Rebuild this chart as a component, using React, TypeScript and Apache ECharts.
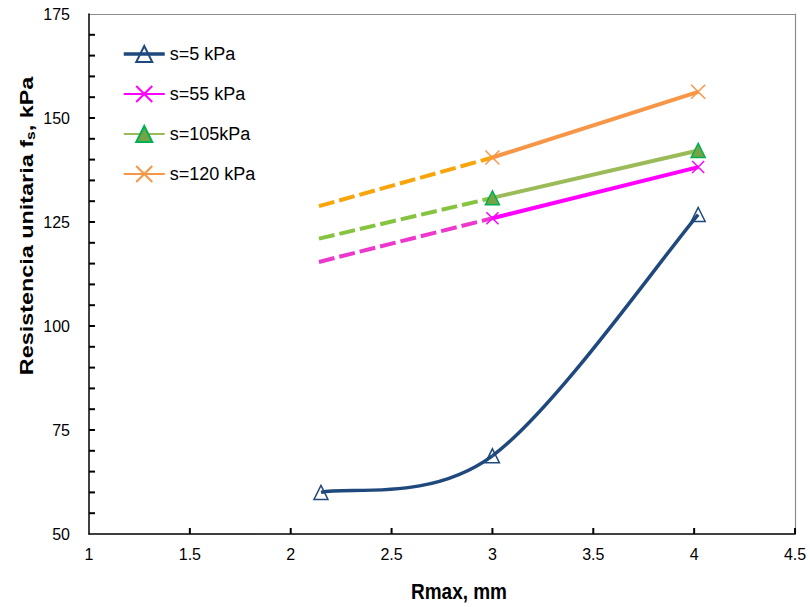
import React, { useEffect, useRef } from "react";
import * as echarts from "echarts";

const xTicks = [1, 1.5, 2, 2.5, 3, 3.5, 4, 4.5];
const yTicks = [50, 75, 100, 125, 150, 175];
const yMinorTicks = [55, 60, 65, 70, 75, 80, 85, 90, 95, 100, 105, 110, 115, 120, 125, 130, 135, 140, 145, 150, 155, 160, 165, 170];
const xTickMarks = [1.5, 2, 2.5, 3, 3.5, 4, 4.5];

const names = ["s=5 kPa", "s=55 kPa", "s=105kPa", "s=120 kPa"];

const s5X = [2.15, 3.0, 4.02];
const s5Y = [60, 68.8, 126.8];

const solidX = [3.0, 4.02];
const s55Solid = [125.9, 138.2];
const s105Solid = [130.8, 142.2];
const s120Solid = [140.5, 156.3];

const dashX = [2.14, 3.0];
const s55Dash = [115.4, 125.9];
const s105Dash = [121.0, 130.8];
const s120Dash = [128.8, 140.5];

const FONT = "Arial, 'Liberation Sans', sans-serif";
const CROSS = "path://M0,0L10,10M10,0L0,10";
const NAVY = "#1F497D";
const X_MIN = 1;
const X_MAX = 4.5;
const Y_MIN = 50;
const Y_MAX = 175;
const TICK_LEN = 6;

function pairs(xs: number[], ys: number[]) {
  return xs.map((x, i) => [x, ys[i]]);
}

export default function App() {
  const ref = useRef<HTMLDivElement>(null);
  useEffect(() => {
    if (!ref.current) return;
    const chart = echarts.init(ref.current, null, { renderer: "svg" });
    const solid = (
      name: string,
      data: number[][],
      color: string,
      symbol: string,
      symbolSize: number,
      markerFill: string,
      markerBorder: string,
      width: number,
      lineOpacity: number
    ) => ({
      type: "line",
      name,
      data,
      symbol,
      symbolSize,
      showAllSymbol: true,
      z: 4,
      lineStyle: { color, width, type: "solid", cap: "butt", opacity: lineOpacity },
      itemStyle: { color: markerFill, borderColor: markerBorder, borderWidth: 1.5 },
      emphasis: { disabled: true },
    });
    const dashed = (data: number[][], color: string) => ({
      type: "line",
      name: "",
      data,
      symbol: "none",
      z: 2,
      lineStyle: { color, width: 4, type: [16, 5], cap: "butt" },
      emphasis: { disabled: true },
    });
    const frameAxis = {
      type: "value",
      axisLine: { show: true, onZero: false, lineStyle: { color: "#8c8c8c", width: 1.2 } },
      axisTick: { show: false },
      axisLabel: { show: false },
      splitLine: { show: false },
    };
    chart.setOption({
      animation: false,
      backgroundColor: "#ffffff",
      grid: {
        left: 89,
        right: 15,
        top: 14,
        bottom: 73,
        show: false,
      },
      legend: {
        data: [
          { name: names[0], lineStyle: { opacity: 1, color: NAVY, width: 3.5 } },
          { name: names[1] },
          { name: names[2] },
          { name: names[3] },
        ],
        orient: "vertical",
        left: 122,
        top: 45,
        padding: 0,
        itemWidth: 41,
        itemHeight: 20,
        itemGap: 22,
        textStyle: { fontFamily: FONT, fontSize: 18, color: "#000" },
        selectedMode: false,
      },
      xAxis: [
        {
          type: "value",
          min: X_MIN,
          max: X_MAX,
          interval: 0.5,
          position: "bottom",
          z: 5,
          axisLine: { show: true, onZero: false, lineStyle: { color: "#000", width: 1.5 } },
          axisTick: { show: false },
          splitLine: { show: false },
          axisLabel: {
            fontFamily: FONT,
            fontSize: 16,
            color: "#000",
            margin: 12,
            formatter: (v: number) => (xTicks.includes(v) ? String(v) : ""),
          },
        },
        { ...frameAxis, min: X_MIN, max: X_MAX, position: "top" },
      ],
      yAxis: [
        {
          type: "value",
          min: Y_MIN,
          max: Y_MAX,
          interval: 25,
          position: "left",
          z: 5,
          axisLine: { show: true, onZero: false, lineStyle: { color: "#000", width: 1.5 } },
          axisTick: { show: false },
          splitLine: { show: false },
          axisLabel: {
            fontFamily: FONT,
            fontSize: 16,
            color: "#000",
            margin: 19,
            formatter: (v: number) => (yTicks.includes(v) ? String(v) : ""),
          },
        },
        { ...frameAxis, min: Y_MIN, max: Y_MAX, position: "right" },
      ],
      graphic: [
        {
          type: "text",
          x: 27,
          y: 226,
          rotation: Math.PI / 2,
          scaleX: 1.3,
          style: {
            text: "{a|Resistencia unitaria f}{s|s}{a|, kPa}",
            align: "center",
            verticalAlign: "middle",
            rich: {
              a: { fontFamily: FONT, fontSize: 18, fontWeight: "bold", fill: "#000" },
              s: { fontFamily: FONT, fontSize: 12, fontWeight: "bold", fill: "#000", padding: [8, 0, 0, 0] },
            },
          },
        },
        {
          type: "text",
          x: 459,
          y: 591,
          scaleY: 1.2,
          style: {
            text: "Rmax, mm",
            align: "center",
            verticalAlign: "middle",
            fontFamily: FONT,
            fontSize: 19,
            fontWeight: "bold",
            fill: "#000",
          },
        },
      ],
      series: [
        dashed(pairs(dashX, s55Dash), "#EC38CC"),
        dashed(pairs(dashX, s105Dash), "#86C440"),
        dashed(pairs(dashX, s120Dash), "#F8A50C"),
        {
          type: "custom",
          name: "s5curve",
          coordinateSystem: "cartesian2d",
          data: pairs(s5X, s5Y),
          encode: { x: 0, y: 1 },
          z: 3,
          silent: true,
          renderItem: (params: any, api: any) => {
            if (params.dataIndex !== 0) return { type: "group", children: [] };
            const p = s5X.map((x, i) => api.coord([x, s5Y[i]]));
            const n = p.length;
            const children: any[] = [];
            for (let i = 0; i < n - 1; i++) {
              const p0 = p[Math.max(i - 1, 0)];
              const p1 = p[i];
              const p2 = p[i + 1];
              const p3 = p[Math.min(i + 2, n - 1)];
              children.push({
                type: "bezierCurve",
                shape: {
                  x1: p1[0],
                  y1: p1[1],
                  x2: p2[0],
                  y2: p2[1],
                  cpx1: p1[0] + (p2[0] - p0[0]) / 6,
                  cpy1: p1[1] + (p2[1] - p0[1]) / 6,
                  cpx2: p2[0] - (p3[0] - p1[0]) / 6,
                  cpy2: p2[1] - (p3[1] - p1[1]) / 6,
                },
                style: { stroke: NAVY, lineWidth: 3.5, fill: "none" },
              });
            }
            return { type: "group", children };
          },
        },
        {
          type: "custom",
          name: "axisTicks",
          coordinateSystem: "cartesian2d",
          data: [[X_MIN, Y_MIN]],
          encode: { x: 0, y: 1 },
          z: 6,
          silent: true,
          renderItem: (params: any, api: any) => {
            if (params.dataIndex !== 0) return { type: "group", children: [] };
            const children: any[] = [];
            xTickMarks.forEach((v) => {
              const pt = api.coord([v, Y_MIN]);
              children.push({
                type: "bezierCurve",
                shape: {
                  x1: pt[0], y1: pt[1], x2: pt[0], y2: pt[1] - TICK_LEN,
                  cpx1: pt[0], cpy1: pt[1] - TICK_LEN / 3, cpx2: pt[0], cpy2: pt[1] - (2 * TICK_LEN) / 3,
                },
                style: { stroke: "#000", lineWidth: 2, fill: "none" },
              });
            });
            yMinorTicks.forEach((v) => {
              const pt = api.coord([X_MIN, v]);
              children.push({
                type: "bezierCurve",
                shape: {
                  x1: pt[0], y1: pt[1], x2: pt[0] + TICK_LEN, y2: pt[1],
                  cpx1: pt[0] + TICK_LEN / 3, cpy1: pt[1], cpx2: pt[0] + (2 * TICK_LEN) / 3, cpy2: pt[1],
                },
                style: { stroke: "#000", lineWidth: 2, fill: "none" },
              });
            });
            return { type: "group", children };
          },
        },
        solid(names[0], pairs(s5X, s5Y), NAVY, "triangle", 14, "rgba(255,255,255,0)", NAVY, 3.5, 0),
        solid(names[1], pairs(solidX, s55Solid), "#FF00FF", CROSS, 12, "rgba(255,255,255,0)", "#FF00FF", 4, 1),
        solid(names[2], pairs(solidX, s105Solid), "#9BBB59", "triangle", 14, "#77A347", "#00B050", 4, 1),
        solid(names[3], pairs(solidX, s120Solid), "#F79646", CROSS, 14, "rgba(255,255,255,0)", "#F79646", 4, 1),
      ],
    });
    return () => chart.dispose();
  }, []);
  return <div ref={ref} style={{ width: 810, height: 607, position: "absolute", left: 0, top: 0 }} />;
}
